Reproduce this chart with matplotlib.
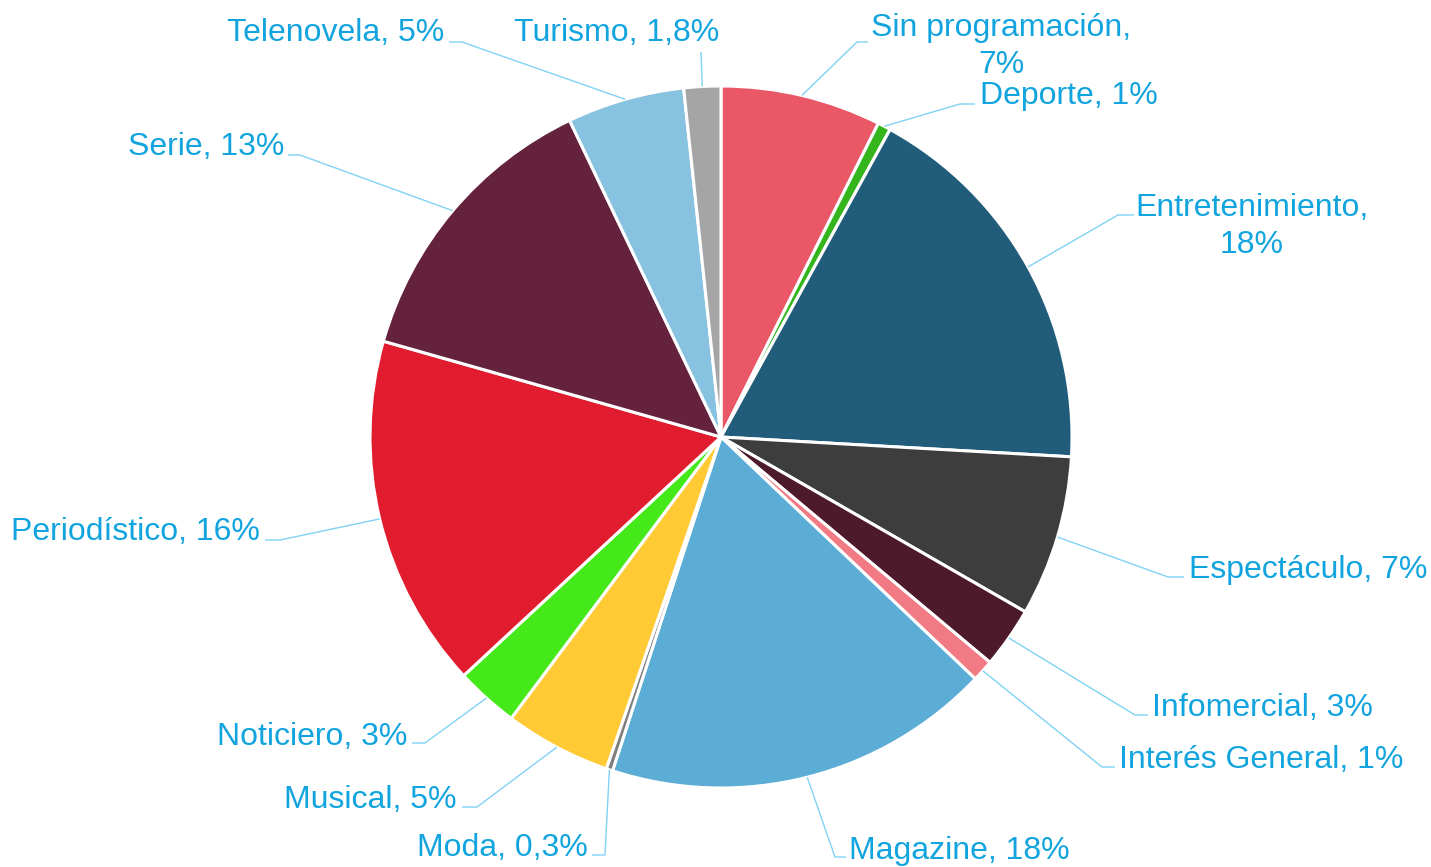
import matplotlib
matplotlib.use('Agg')
import matplotlib.pyplot as plt
import numpy as np

# datos (porcentaje de cada genero)
categorias = ['Sin programación', 'Deporte', 'Entretenimiento', 'Espectáculo',
              'Infomercial', 'Interés General', 'Magazine', 'Moda', 'Musical',
              'Noticiero', 'Periodístico', 'Serie', 'Telenovela', 'Turismo']
valores = [7.4, 0.6, 17.9, 7.4, 2.8, 1.0, 17.9, 0.3, 4.9, 2.9, 16.3, 13.5, 5.4, 1.7]
etiquetas_pct = ['7%', '1%', '18%', '7%', '3%', '1%', '18%', '0,3%', '5%',
                 '3%', '16%', '13%', '5%', '1,8%']

colores = ['#EA5766', '#35B51C', '#215C7B', '#3D3D3D', '#4D1A2C', '#F17A84',
           '#5CADD6', '#7F7F7F', '#FFCA33', '#45E818', '#E21C2F', '#64223D',
           '#87C2E0', '#A5A5A5']

# posicion de las etiquetas (pixeles, origen arriba-izquierda)
# codo de la linea guia, fin del tramo horizontal, posicion del texto (linea base)
codos = [(857, 42), (960, 104), (1118, 215), (1168, 577), (1135, 715),
         (1102, 767), (835, 857), (605, 855), (477, 807), (425, 743),
         (280, 540), (300, 155), (462, 42), (701, 52)]
fin_x = [868, 975, 1134, 1184, 1148, 1115, 846, 592, 462, 412, 265, 288, 449, 701]
texto_x = [1001, 980, 1252, 1189, 1152, 1119, 849, 588, 457, 407, 260, 284, 444, 617]
texto_y = [36, 104, 216, 578, 716, 768, 859, 856, 808, 745, 540, 155, 41, 41]
alin = ['center', 'left', 'center', 'left', 'left', 'left', 'left',
        'right', 'right', 'right', 'right', 'right', 'right', 'center']
partir = {0, 2}

W, H = 1431, 867
azul_txt = '#12A4DE'
azul_linea = '#80D2F4'

fig = plt.figure(figsize=(W / 100, H / 100), dpi=100)
ax = fig.add_axes([0, 0, 1, 1])

cx, cy, r = 721, H - 437, 351
wedges, _ = ax.pie(valores, colors=colores, startangle=90, counterclock=False,
                   center=(cx, cy), radius=r, frame=True,
                   wedgeprops=dict(edgecolor='white', linewidth=2.2))
ax.set_xlim(0, W)
ax.set_ylim(0, H)
ax.axis('off')

for i, w in enumerate(wedges):
    ang = np.deg2rad((w.theta1 + w.theta2) / 2)
    px, py = cx + r * np.cos(ang), cy + r * np.sin(ang)
    ex, ey = codos[i]
    ax.plot([px, ex, fin_x[i]], [py, H - ey, H - ey], color=azul_linea, lw=1.0,
            solid_capstyle='butt')
    if i in partir:
        lineas = [categorias[i] + ',', etiquetas_pct[i]]
    else:
        lineas = [categorias[i] + ', ' + etiquetas_pct[i]]
    for j, t in enumerate(lineas):
        ax.text(texto_x[i], H - (texto_y[i] + j * 37), t, ha=alin[i], va='baseline',
                fontsize=23, color=azul_txt, family='Liberation Sans')

fig.savefig('out.png', dpi=100)
